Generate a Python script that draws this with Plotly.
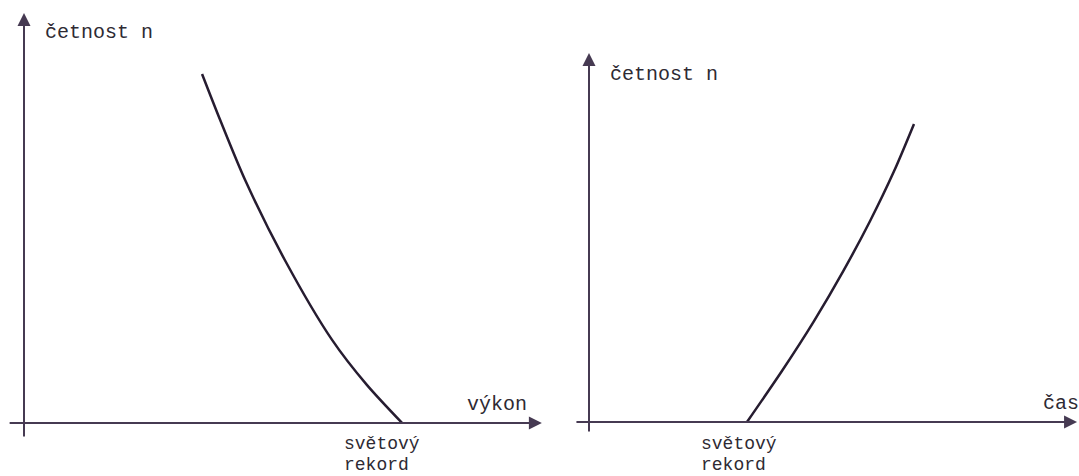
import plotly.graph_objects as go

# ---- data (arbitrary units) ----
vykon = [47.1, 51.9, 58.5, 69.0, 81.5, 90.7, 100.0]
cetnost_vykon = [100.0, 86.8, 69.6, 46.7, 23.8, 10.9, 0.0]

cas = [100.0, 122.1, 142.4, 161.0, 177.9, 193.1, 205.7]
cetnost_cas = [0.0, 14.6, 28.9, 43.3, 57.6, 71.9, 85.4]

# axis arrow extents (data units)
left_x_axis = (-4.2, 137.0)
left_y_axis = (-4.3, 117.5)
right_x_axis = (-8.9, 308.9)
right_y_axis = (-3.15, 105.7)

W, H = 1079, 476
AXIS_COLOR = "#463a52"
CURVE_COLOR = "#261c30"
TEXT_COLOR = "#2e2a33"
FONT = dict(family="Liberation Mono, Courier New, monospace", size=20, color=TEXT_COLOR)
FONT_SMALL = dict(family="Liberation Mono, Courier New, monospace", size=18, color=TEXT_COLOR)


def px(x):
    return x / W


def py(y):
    return 1 - y / H


fig = go.Figure()
fig.add_trace(go.Scatter(x=vykon, y=cetnost_vykon, mode="lines",
                         line=dict(color=CURVE_COLOR, width=2.5, shape="spline", smoothing=0.8),
                         xaxis="x", yaxis="y", showlegend=False, hoverinfo="skip"))
fig.add_trace(go.Scatter(x=cas, y=cetnost_cas, mode="lines",
                         line=dict(color=CURVE_COLOR, width=2.5, shape="spline", smoothing=0.8),
                         xaxis="x2", yaxis="y2", showlegend=False, hoverinfo="skip"))

annotations = []


def arrow(xr, yr, x, y, ax, ay):
    annotations.append(dict(xref=xr, yref=yr, axref=xr, ayref=yr, x=x, y=y, ax=ax, ay=ay,
                            text="", showarrow=True, arrowhead=2, arrowsize=1.3,
                            arrowwidth=2, arrowcolor=AXIS_COLOR, standoff=0, startstandoff=0))


arrow("x", "y", left_x_axis[1], 0, left_x_axis[0], 0)
arrow("x", "y", 0, left_y_axis[1], 0, left_y_axis[0])
arrow("x2", "y2", right_x_axis[1], 0, right_x_axis[0], 0)
arrow("x2", "y2", 0, right_y_axis[1], 0, right_y_axis[0])


def label(text, x, y, font=FONT):
    annotations.append(dict(xref="paper", yref="paper", x=px(x), y=py(y), text=text,
                            showarrow=False, xanchor="left", yanchor="middle", font=font,
                            borderpad=0))


label("četnost n", 44, 33)
label("výkon", 466, 404)
label("světový", 343, 444, FONT_SMALL)
label("rekord", 343, 465, FONT_SMALL)
label("četnost n", 609, 74)
label("čas", 1042, 403)
label("světový", 700, 444, FONT_SMALL)
label("rekord", 700, 465, FONT_SMALL)

hidden = dict(visible=False, showgrid=False, zeroline=False)
fig.update_layout(
    width=W, height=H,
    margin=dict(l=0, r=0, t=0, b=0),
    paper_bgcolor="white", plot_bgcolor="white",
    xaxis=dict(domain=[0, 545 / W], range=[-6.35, 137.83], **hidden),
    yaxis=dict(domain=[0, 1], range=[-15.2, 121.2], **hidden),
    xaxis2=dict(domain=[555 / W, 1], range=[-21.52, 310.13], anchor="y2", **hidden),
    yaxis2=dict(domain=[0, 1], range=[-15.47, 120.9], anchor="x2", **hidden),
    annotations=annotations,
)

fig.write_html("out.html", config={"displayModeBar": False},
               post_script="document.body.style.margin='0';document.body.style.overflow='hidden';")
